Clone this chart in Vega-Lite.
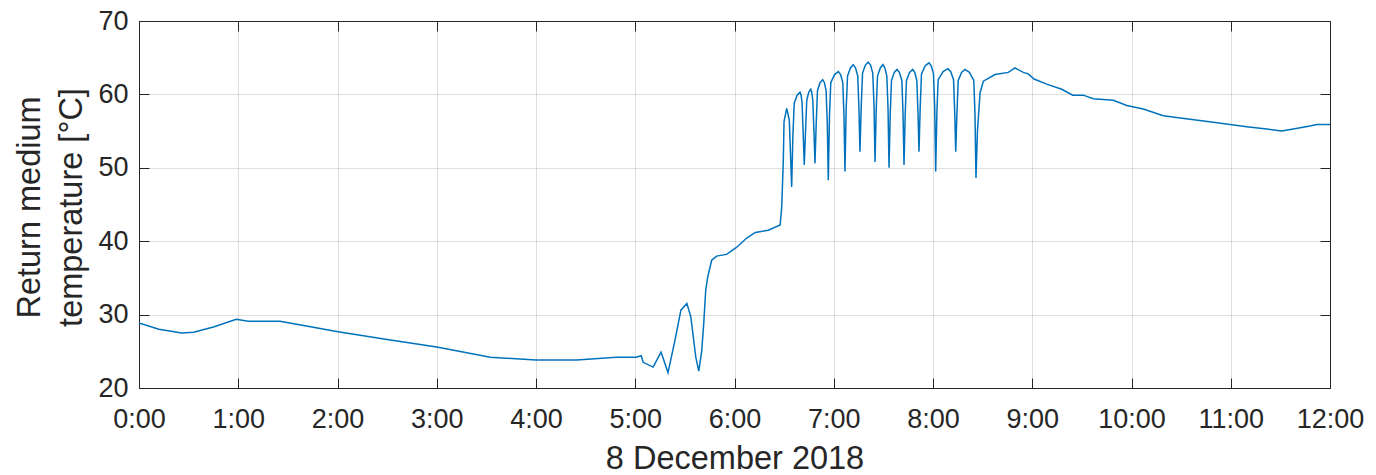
{
  "$schema": "https://vega.github.io/schema/vega-lite/v6.json",
  "width": 1191,
  "height": 367,
  "autosize": "none",
  "padding": {"left": 139, "top": 21, "right": 46, "bottom": 87},
  "background": "white",
  "config": {
    "view": {"stroke": null},
    "font": "Liberation Sans",
    "axis": {
      "domainColor": "#262626",
      "domainWidth": 1,
      "tickColor": "#262626",
      "tickWidth": 1,
      "tickSize": -10,
      "labelColor": "#262626",
      "labelFont": "Liberation Sans",
      "labelFontSize": 27,
      "titleColor": "#262626",
      "titleFont": "Liberation Sans",
      "titleFontSize": 32.5,
      "titleFontWeight": "normal",
      "gridColor": "#262626",
      "gridOpacity": 0.15,
      "gridWidth": 1,
      "labelFlush": false,
      "labelOverlap": false
    }
  },
  "data": {
    "values": [
      {"hour": 0.0, "temp": 28.85}, {"hour": 0.2, "temp": 28.0}, {"hour": 0.43, "temp": 27.5}, {"hour": 0.55, "temp": 27.6},
      {"hour": 0.75, "temp": 28.3}, {"hour": 0.98, "temp": 29.35}, {"hour": 1.1, "temp": 29.1}, {"hour": 1.42, "temp": 29.1},
      {"hour": 1.7, "temp": 28.4}, {"hour": 1.99, "temp": 27.7}, {"hour": 2.5, "temp": 26.6}, {"hour": 3.0, "temp": 25.6},
      {"hour": 3.54, "temp": 24.2}, {"hour": 4.0, "temp": 23.8}, {"hour": 4.41, "temp": 23.8}, {"hour": 4.81, "temp": 24.2},
      {"hour": 5.01, "temp": 24.2}, {"hour": 5.06, "temp": 24.4}, {"hour": 5.08, "temp": 23.5}, {"hour": 5.18, "temp": 22.85},
      {"hour": 5.26, "temp": 24.9}, {"hour": 5.33, "temp": 22.1}, {"hour": 5.4, "temp": 26.5}, {"hour": 5.46, "temp": 30.6},
      {"hour": 5.52, "temp": 31.5}, {"hour": 5.56, "temp": 29.7}, {"hour": 5.61, "temp": 24.2}, {"hour": 5.64, "temp": 22.3},
      {"hour": 5.67, "temp": 25.1}, {"hour": 5.69, "temp": 28.8}, {"hour": 5.71, "temp": 33.3}, {"hour": 5.73, "temp": 35.1},
      {"hour": 5.77, "temp": 37.4}, {"hour": 5.82, "temp": 37.97}, {"hour": 5.92, "temp": 38.2}, {"hour": 6.02, "temp": 39.15},
      {"hour": 6.12, "temp": 40.4}, {"hour": 6.21, "temp": 41.2}, {"hour": 6.34, "temp": 41.5}, {"hour": 6.46, "temp": 42.2},
      {"hour": 6.476, "temp": 44.7}, {"hour": 6.492, "temp": 51.1}, {"hour": 6.499, "temp": 56.3}, {"hour": 6.526, "temp": 58.1},
      {"hour": 6.552, "temp": 56.5}, {"hour": 6.576, "temp": 47.4},
      {"hour": 6.588, "temp": 54.3}, {"hour": 6.602, "temp": 58.8}, {"hour": 6.631, "temp": 59.9}, {"hour": 6.66, "temp": 60.3},
      {"hour": 6.671, "temp": 59.9}, {"hour": 6.681, "temp": 58.8}, {"hour": 6.693, "temp": 54.3}, {"hour": 6.703, "temp": 50.4},
      {"hour": 6.715, "temp": 54.7}, {"hour": 6.728, "temp": 59.2}, {"hour": 6.748, "temp": 60.3}, {"hour": 6.768, "temp": 60.7},
      {"hour": 6.778, "temp": 60.3}, {"hour": 6.789, "temp": 59.2}, {"hour": 6.801, "temp": 54.7}, {"hour": 6.811, "temp": 50.6},
      {"hour": 6.823, "temp": 56.0}, {"hour": 6.836, "temp": 60.5}, {"hour": 6.862, "temp": 61.6}, {"hour": 6.889, "temp": 62.0},
      {"hour": 6.906, "temp": 61.6}, {"hour": 6.923, "temp": 60.5}, {"hour": 6.935, "temp": 56.0}, {"hour": 6.945, "temp": 48.3},
      {"hour": 6.957, "temp": 57.1}, {"hour": 6.97, "temp": 61.6}, {"hour": 7.008, "temp": 62.7}, {"hour": 7.046, "temp": 63.1},
      {"hour": 7.069, "temp": 62.7}, {"hour": 7.091, "temp": 61.6}, {"hour": 7.103, "temp": 57.1}, {"hour": 7.113, "temp": 49.5},
      {"hour": 7.125, "temp": 58.0}, {"hour": 7.139, "temp": 62.5}, {"hour": 7.168, "temp": 63.6}, {"hour": 7.197, "temp": 64.05},
      {"hour": 7.22, "temp": 63.6}, {"hour": 7.242, "temp": 62.5}, {"hour": 7.254, "temp": 58.0}, {"hour": 7.264, "temp": 52.2},
      {"hour": 7.277, "temp": 58.4}, {"hour": 7.29, "temp": 62.9}, {"hour": 7.319, "temp": 64.0}, {"hour": 7.348, "temp": 64.4},
      {"hour": 7.371, "temp": 64.0}, {"hour": 7.393, "temp": 62.9}, {"hour": 7.406, "temp": 58.4}, {"hour": 7.416, "temp": 50.8},
      {"hour": 7.428, "temp": 58.0}, {"hour": 7.441, "temp": 62.5}, {"hour": 7.469, "temp": 63.6}, {"hour": 7.496, "temp": 64.05},
      {"hour": 7.515, "temp": 63.6}, {"hour": 7.535, "temp": 62.5}, {"hour": 7.547, "temp": 58.0}, {"hour": 7.557, "temp": 50.0},
      {"hour": 7.569, "temp": 57.4}, {"hour": 7.582, "temp": 61.9}, {"hour": 7.61, "temp": 63.0}, {"hour": 7.637, "temp": 63.4},
      {"hour": 7.661, "temp": 63.0}, {"hour": 7.686, "temp": 61.9}, {"hour": 7.698, "temp": 57.4}, {"hour": 7.708, "temp": 50.4},
      {"hour": 7.72, "temp": 57.4}, {"hour": 7.733, "temp": 61.9}, {"hour": 7.764, "temp": 63.0}, {"hour": 7.795, "temp": 63.4},
      {"hour": 7.816, "temp": 63.0}, {"hour": 7.837, "temp": 61.9}, {"hour": 7.849, "temp": 57.4}, {"hour": 7.859, "temp": 52.2},
      {"hour": 7.871, "temp": 58.3}, {"hour": 7.884, "temp": 62.8}, {"hour": 7.922, "temp": 63.9}, {"hour": 7.96, "temp": 64.3},
      {"hour": 7.982, "temp": 63.9}, {"hour": 8.005, "temp": 62.8}, {"hour": 8.017, "temp": 58.3}, {"hour": 8.027, "temp": 49.5},
      {"hour": 8.039, "temp": 57.5}, {"hour": 8.052, "temp": 62.0}, {"hour": 8.102, "temp": 63.1}, {"hour": 8.151, "temp": 63.5},
      {"hour": 8.179, "temp": 63.1}, {"hour": 8.207, "temp": 62.0}, {"hour": 8.219, "temp": 57.5}, {"hour": 8.229, "temp": 52.2},
      {"hour": 8.241, "temp": 57.4}, {"hour": 8.254, "temp": 61.9}, {"hour": 8.288, "temp": 63.0}, {"hour": 8.322, "temp": 63.4},
      {"hour": 8.367, "temp": 63.0}, {"hour": 8.411, "temp": 61.9}, {"hour": 8.423, "temp": 57.4}, {"hour": 8.433, "temp": 48.6},
      {"hour": 8.448, "temp": 55.0}, {"hour": 8.474, "temp": 60.2}, {"hour": 8.507, "temp": 61.8}, {"hour": 8.625, "temp": 62.7},
      {"hour": 8.759, "temp": 63.0}, {"hour": 8.826, "temp": 63.6}, {"hour": 8.91, "temp": 63.0}, {"hour": 8.96, "temp": 62.8},
      {"hour": 9.018, "temp": 62.1}, {"hour": 9.146, "temp": 61.4}, {"hour": 9.297, "temp": 60.7}, {"hour": 9.408, "temp": 59.9},
      {"hour": 9.514, "temp": 59.9}, {"hour": 9.615, "temp": 59.4}, {"hour": 9.817, "temp": 59.2}, {"hour": 9.952, "temp": 58.5},
      {"hour": 10.119, "temp": 58.0}, {"hour": 10.32, "temp": 57.1}, {"hour": 10.589, "temp": 56.6}, {"hour": 10.824, "temp": 56.2},
      {"hour": 11.161, "temp": 55.6}, {"hour": 11.362, "temp": 55.3}, {"hour": 11.513, "temp": 55.0}, {"hour": 11.63, "temp": 55.3},
      {"hour": 11.798, "temp": 55.7}, {"hour": 11.866, "temp": 55.9}, {"hour": 12.0, "temp": 55.9}
    ]
  },
  "layer": [
    {
      "mark": {"type": "line", "color": "#0072BD", "strokeWidth": 1.5, "clip": true},
      "encoding": {
        "x": {
          "field": "hour", "type": "quantitative",
          "scale": {"domain": [0, 12], "nice": false, "zero": false},
          "axis": {
            "orient": "bottom",
            "values": [0, 1, 2, 3, 4, 5, 6, 7, 8, 9, 10, 11, 12],
            "labelExpr": "datum.value + ':00'",
            "labelPadding": 28,
            "labelBaseline": "top",
            "grid": true,
            "title": "8 December 2018",
            "titleBaseline": "alphabetic",
            "titleX": 595.5,
            "titleY": 80,
            "titleAnchor": "middle",
            "titleAlign": "center"
          }
        },
        "y": {
          "field": "temp", "type": "quantitative",
          "scale": {"domain": [20, 70], "nice": false, "zero": false},
          "axis": {
            "orient": "left",
            "values": [20, 30, 40, 50, 60, 70],
            "labelPadding": 21,
            "grid": true,
            "title": ["Return medium", "temperature [°C]"],
            "titleAngle": -90,
            "titleBaseline": "alphabetic",
            "titleAlign": "center",
            "titleLineHeight": 42.3,
            "titleX": -100,
            "titleY": 186
          }
        }
      }
    },
    {
      "mark": {"type": "line", "opacity": 0},
      "encoding": {
        "x": {
          "field": "hour", "type": "quantitative",
          "scale": {"domain": [0, 12], "nice": false, "zero": false},
          "axis": {"orient": "top", "values": [0, 1, 2, 3, 4, 5, 6, 7, 8, 9, 10, 11, 12], "labels": false, "grid": false, "title": null}
        },
        "y": {
          "field": "temp", "type": "quantitative",
          "scale": {"domain": [20, 70], "nice": false, "zero": false},
          "axis": {"orient": "right", "values": [20, 30, 40, 50, 60, 70], "labels": false, "grid": false, "title": null}
        }
      }
    }
  ],
  "resolve": {"axis": {"x": "independent", "y": "independent"}}
}
